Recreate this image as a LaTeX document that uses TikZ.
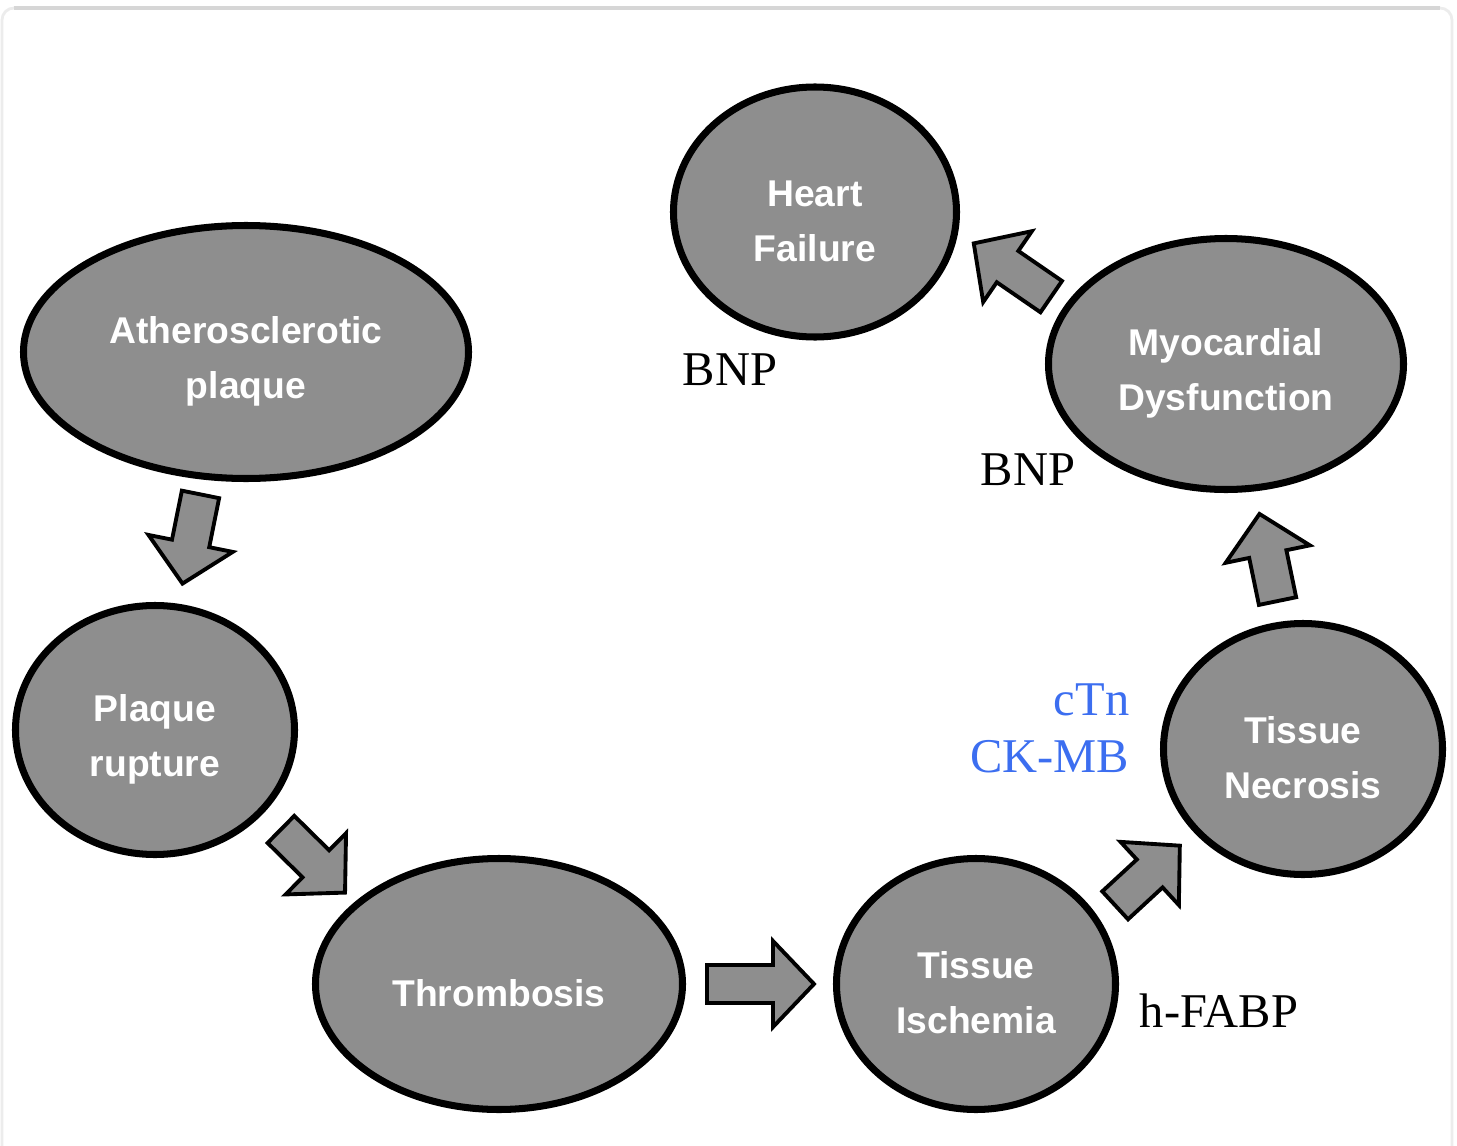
\documentclass[tikz,border=0pt]{standalone}
\usepackage{fontspec}
\setmainfont{Liberation Serif}
\newfontfamily\stagefont{Liberation Sans}
\usetikzlibrary{shapes.geometric,calc}

\definecolor{stagegray}{HTML}{8E8E8E}
\definecolor{framegray}{HTML}{D6D6D6}
\definecolor{frameside}{HTML}{ECECEC}
\definecolor{markerblue}{RGB}{60,110,240}

% lifts the first line so the text sits a little low
\newcommand{\lowtext}{\rule{0pt}{0.45cm}}

% block arrow: #1 centre, #2 angle, #3 length
\newcommand{\blockarrow}[3]{%
  \begin{scope}[shift={#1}, rotate=#2]
    \draw[fill=stagegray, line width=1.1pt, line join=miter]
      (-#3/2,-0.19) -- (#3/2-0.41,-0.19) -- (#3/2-0.41,-0.43) -- (#3/2,0)
      -- (#3/2-0.41,0.43) -- (#3/2-0.41,0.19) -- (-#3/2,0.19) -- cycle;
  \end{scope}}

\begin{document}
\begin{tikzpicture}[
    stage/.style={ellipse, draw=black, line width=2pt, fill=stagegray,
      inner sep=0pt, align=center, text=white,
      font=\stagefont\bfseries\fontsize{10.6}{15.6}\selectfont},
    marker/.style={font=\fontsize{13.8}{16}\selectfont, inner sep=0pt}
  ]
    \useasboundingbox (0,0) rectangle (14.57,-11.46);

    % frame
    \draw[frameside, line width=0.8pt, rounded corners=0.12cm]
      (0.02,-11.46) -- (0.02,-0.08) -- (14.52,-0.08) -- (14.52,-11.46);
    \draw[framegray, line width=1pt] (0.14,-0.08) -- (14.40,-0.08);

    % Stages
    \node[stage, minimum width=2.83cm, minimum height=2.50cm] (failure) at (8.15,-2.12) {\lowtext Heart\\Failure};
    \node[stage, minimum width=4.45cm, minimum height=2.53cm] (athero) at (2.46,-3.52) {\lowtext Atherosclerotic\\plaque};
    \node[stage, minimum width=3.55cm, minimum height=2.51cm] (dysfunction) at (12.26,-3.64) {\lowtext Myocardial\\Dysfunction};
    \node[stage, minimum width=2.79cm, minimum height=2.49cm] (rupture) at (1.55,-7.30) {\lowtext Plaque\\rupture};
    \node[stage, minimum width=2.79cm, minimum height=2.51cm] (necrosis) at (13.03,-7.49) {\lowtext Tissue\\Necrosis};
    \node[stage, minimum width=3.67cm, minimum height=2.51cm] (thrombosis) at (4.99,-9.84) {\lowtext Thrombosis};
    \node[stage, minimum width=2.79cm, minimum height=2.51cm] (ischemia) at (9.76,-9.84) {\lowtext Tissue\\Ischemia};

    % Arrows between stages
    \blockarrow{($(athero)!0.5!(rupture)+(-0.09,0.02)$)}{-101.4}{0.91}
    \blockarrow{($(rupture)!0.5!(thrombosis)+(-0.14,-0.04)$)}{-44.6}{0.90}
    \blockarrow{($(thrombosis)!0.5!(ischemia)+(0.23,0)$)}{0}{1.07}
    \blockarrow{($(ischemia)!0.5!(necrosis)+(0.08,-0.09)$)}{42.7}{0.88}
    \blockarrow{($(necrosis)!0.5!(dysfunction)+(0.04,-0.01)$)}{101.7}{0.89}
    \blockarrow{($(dysfunction)!0.5!(failure)+(-0.08,0.18)$)}{145.5}{0.94}

    % Markers
    \node[marker, anchor=base] (bnpfailure) at (7.30,-3.85) {BNP};
    \node[marker, anchor=base] (bnpdysfunction) at (10.28,-4.85) {BNP};
    \node[marker, anchor=base east, text=markerblue] (ctn) at (11.30,-7.15) {cTn};
    \node[marker, anchor=base east, text=markerblue] (ckmb) at (11.30,-7.72) {CK-MB};
    \node[marker, anchor=base] (hfabp) at (12.19,-10.27) {h-FABP};
\end{tikzpicture}
\end{document}
